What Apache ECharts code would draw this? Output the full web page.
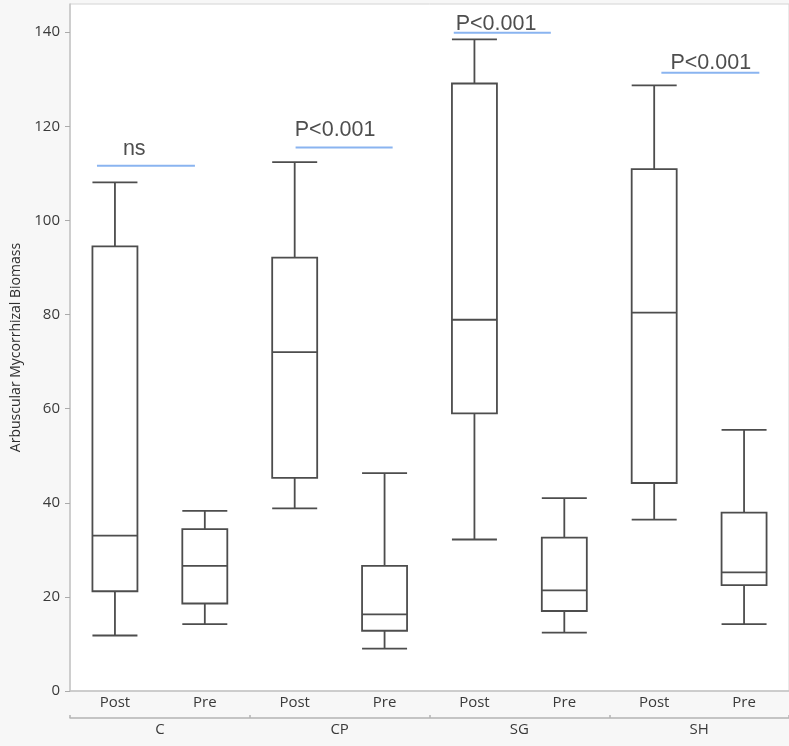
<!DOCTYPE html>
<html>
<head>
<meta charset="utf-8">
<script src="https://cdn.jsdelivr.net/npm/echarts@6/dist/echarts.min.js"></script>
<style>
html,body{margin:0;padding:0;background:#fff;}
#chart{width:789px;height:746px;}
</style>
</head>
<body>
<div id="chart"></div>
<script>
// ---- data ----
const groups = ['C', 'CP', 'SG', 'SH'];
const phases = ['Post', 'Pre'];
const boxMin    = [11.8, 14.2, 38.8,  9.0,  32.2, 12.4, 36.4, 14.2];
const boxQ1     = [21.2, 18.6, 45.3, 12.8,  59.0, 17.0, 44.2, 22.5];
const boxMedian = [33.0, 26.6, 72.0, 16.3,  78.9, 21.4, 80.4, 25.2];
const boxQ3     = [94.5, 34.4, 92.1, 26.6, 129.1, 32.6, 110.9, 37.9];
const boxMax    = [108.1, 38.3, 112.4, 46.3, 138.5, 41.0, 128.7, 55.5];
const yTicks = [0, 20, 40, 60, 80, 100, 120, 140];
const sigLabels = ['ns', 'P<0.001', 'P<0.001', 'P<0.001'];
const sigLineY = [111.6, 115.5, 139.9, 131.4];
const sigLineStart = [-0.2, 2.01, 3.77, 6.08];
const sigLineEnd = [0.89, 3.09, 4.85, 7.17];
const sigLabelX = [0.215, 2.45, 4.24, 6.63];
const sigLabelY = [115.2, 119.3, 141.8, 133.4];

// ---- build ----
const categories = [];
groups.forEach(g => phases.forEach(p => categories.push(g + '|' + p)));
const boxData = categories.map((c, i) => [boxMin[i], boxQ1[i], boxMedian[i], boxQ3[i], boxMax[i]]);

const font = '"Open Sans", "DejaVu Sans", sans-serif';
const series = [{
  type: 'boxplot',
  xAxisIndex: 0,
  yAxisIndex: 0,
  data: boxData,
  boxWidth: [45, 45],
  itemStyle: { color: '#ffffff', borderColor: '#4d4d4d', borderWidth: 1.8 },
  emphasis: { disabled: true },
  silent: true
}];
sigLabels.forEach((lab, i) => {
  series.push({
    type: 'line',
    xAxisIndex: 2,
    yAxisIndex: 0,
    data: [[sigLineStart[i], sigLineY[i]], [sigLineEnd[i], sigLineY[i]]],
    symbol: 'none',
    lineStyle: { color: '#8ab4f0', width: 2 },
    silent: true
  });
});
series.push({
  type: 'scatter',
  xAxisIndex: 2,
  yAxisIndex: 0,
  data: sigLabels.map((lab, i) => ({ value: [sigLabelX[i], sigLabelY[i]], name: lab })),
  symbolSize: 1,
  itemStyle: { color: 'transparent' },
  label: {
    show: true, position: 'inside', formatter: p => p.name,
    fontFamily: '"Liberation Sans", Arial, sans-serif', fontSize: 21.5, color: '#222222'
  },
  silent: true
});

const chart = echarts.init(document.getElementById('chart'), null, { renderer: 'canvas' });
chart.setOption({
  backgroundColor: '#f7f7f7',
  animation: false,
  grid: {
    left: 70, top: 4, width: 727.5, height: 687,
    show: true, backgroundColor: '#ffffff', borderColor: '#d4d4d4', borderWidth: 1
  },
  xAxis: [{
    type: 'category',
    data: categories,
    gridIndex: 0,
    position: 'bottom',
    axisLine: { show: true, onZero: false, lineStyle: { color: '#c4c4c4', width: 1.5 } },
    axisTick: { show: false },
    axisLabel: { formatter: v => v.split('|')[1], fontFamily: font, fontSize: 15, color: '#3a3a3a', margin: 4 },
    splitLine: { show: false }
  }, {
    type: 'category',
    data: groups,
    gridIndex: 0,
    position: 'bottom',
    offset: 27,
    axisLine: { show: true, onZero: false, lineStyle: { color: '#b4b4b4', width: 1.5 } },
    axisTick: { show: true, inside: true, length: 3, lineStyle: { color: '#b4b4b4', width: 1.5 } },
    axisLabel: { fontFamily: font, fontSize: 15, color: '#3a3a3a', margin: 4 },
    splitLine: { show: false }
  }, {
    type: 'value',
    gridIndex: 0,
    min: -0.5,
    max: 7.5,
    show: false
  }],
  yAxis: [{
    type: 'value',
    min: 0,
    max: 146,
    interval: 20,
    name: 'Arbuscular Mycorrhizal Biomass',
    nameLocation: 'middle',
    nameGap: 38,
    nameTextStyle: { fontFamily: font, fontSize: 14, color: '#2e2e2e' },
    axisLine: { show: true, onZero: false, lineStyle: { color: '#c4c4c4', width: 1.5 } },
    axisTick: { show: true, length: 5, customValues: yTicks, lineStyle: { color: '#aaaaaa' } },
    axisLabel: { customValues: yTicks, fontFamily: font, fontSize: 15, color: '#3a3a3a', margin: 10 },
    splitLine: { show: false }
  }],
  series: series
});
</script>
</body>
</html>
